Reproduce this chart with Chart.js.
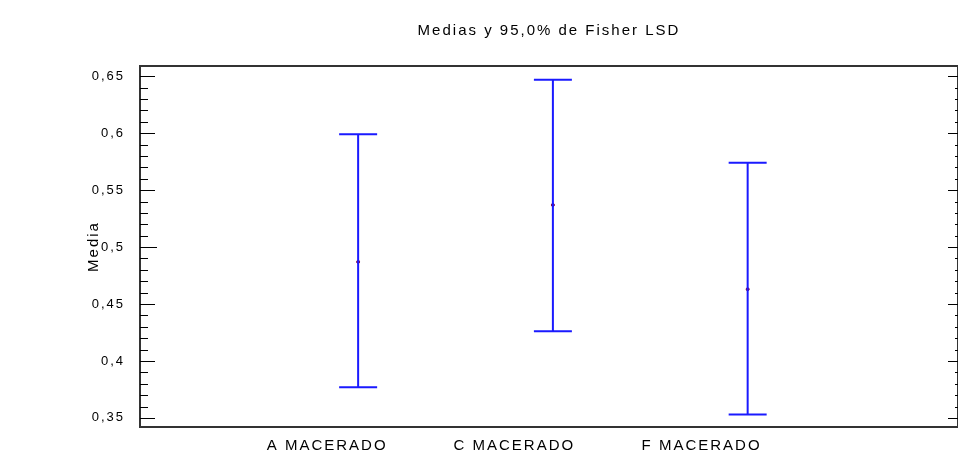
<!DOCTYPE html>
<html>
<head>
<meta charset="utf-8">
<script src="https://cdn.jsdelivr.net/npm/chart.js@4.4.1/dist/chart.umd.min.js"></script>
<style>
  html, body { margin: 0; padding: 0; background: #fff; overflow: hidden; }
  #wrap { width: 958px; height: 459px; }
</style>
</head>
<body>
<div id="wrap"><canvas id="chart"></canvas></div>
<script>
// categorías y valores
const categorias = ["A MACERADO", "C MACERADO", "F MACERADO"];
const medias = [0.487, 0.537, 0.463];
const limiteInferior = [0.377, 0.426, 0.353];
const limiteSuperior = [0.599, 0.647, 0.574];
const ticksY = [0.35, 0.4, 0.45, 0.5, 0.55, 0.6, 0.65];

const fuente = "'Liberation Sans', Arial, sans-serif";
const espaciado = "2px";

// barras de error y marco, dibujados con las escalas del gráfico
const barrasError = {
    id: "barrasError",
    beforeUpdate(chart) {
        chart.ctx.letterSpacing = espaciado;
    },
    beforeDraw(chart) {
        chart.ctx.letterSpacing = espaciado;
    },
    afterDatasetsDraw(chart) {
        const ctx = chart.ctx;
        const xs = chart.scales.x;
        const ys = chart.scales.y;
        ctx.save();
        ctx.strokeStyle = "#1a1aff";
        ctx.lineWidth = 2;
        categorias.forEach((c, i) => {
            const x = xs.getPixelForValue(i + 1);
            const y1 = ys.getPixelForValue(limiteInferior[i]);
            const y2 = ys.getPixelForValue(limiteSuperior[i]);
            ctx.beginPath();
            ctx.moveTo(x, y1);
            ctx.lineTo(x, y2);
            ctx.moveTo(x - 19, y1);
            ctx.lineTo(x + 19, y1);
            ctx.moveTo(x - 19, y2);
            ctx.lineTo(x + 19, y2);
            ctx.stroke();
        });
        ctx.restore();
    },
    afterDraw(chart) {
        const ctx = chart.ctx;
        const a = chart.chartArea;
        const ys = chart.scales.y;
        ctx.save();
        // marco
        ctx.strokeStyle = "#333";
        ctx.lineWidth = 2;
        ctx.strokeRect(a.left, a.top, a.right - a.left, a.bottom - a.top);
        // marcas del eje
        ctx.strokeStyle = "#000";
        ctx.lineWidth = 1;
        ctx.beginPath();
        for (let k = 35; k <= 65; k++) {
            const y = Math.round(ys.getPixelForValue(k / 100)) + 0.5;
            const mayor = k % 5 === 0;
            const largo = mayor ? (k === 50 ? 17 : 15) : 8;
            ctx.moveTo(a.left, y);
            ctx.lineTo(a.left + largo, y);
            ctx.moveTo(a.right, y);
            ctx.lineTo(a.right - (mayor ? 10 : 3), y);
        }
        ctx.stroke();
        ctx.restore();
    }
};

new Chart(document.getElementById("chart"), {
    type: "scatter",
    data: {
        datasets: [{
            label: "Media",
            data: medias.map((m, i) => ({ x: i + 1, y: m })),
            pointRadius: 1.5,
            pointBorderWidth: 1,
            pointBackgroundColor: "#800040",
            pointBorderColor: "#800040"
        }]
    },
    options: {
        responsive: true,
        maintainAspectRatio: false,
        animation: false,
        layout: { autoPadding: false, padding: { left: 0, right: -2, top: 0, bottom: 0 } },
        plugins: {
            legend: { display: false },
            tooltip: { enabled: false },
            title: {
                display: true,
                fullSize: false,
                text: "Medias y 95,0% de Fisher LSD",
                color: "#000",
                font: { family: fuente, size: 15, weight: "normal" },
                padding: { top: 22, bottom: 26 }
            }
        },
        scales: {
            // eje de los datos (oculto)
            x: {
                type: "linear",
                min: -0.12,
                max: 4.08,
                display: false
            },
            // eje de las etiquetas de categoría
            xl: {
                type: "linear",
                position: "bottom",
                min: 0,
                max: 4.37,
                grid: { display: false, drawTicks: false },
                border: { display: false },
                afterBuildTicks: s => { s.ticks = categorias.map((c, i) => ({ value: i + 1 })); },
                ticks: {
                    color: "#000",
                    font: { family: fuente, size: 15 },
                    padding: 10,
                    maxRotation: 0,
                    autoSkip: false,
                    callback: v => categorias[v - 1] || ""
                },
                afterFit: s => { s.height = 32; }
            },
            y: {
                min: 0.342,
                max: 0.659,
                grid: { display: false, drawTicks: false },
                border: { display: false },
                afterBuildTicks: s => { s.ticks = ticksY.map(v => ({ value: v })); },
                ticks: {
                    color: "#000",
                    font: { family: fuente, size: 13 },
                    padding: 15,
                    callback: v => String(Math.round(v * 100) / 100).replace(".", ",")
                },
                title: {
                    display: true,
                    text: "Media",
                    color: "#000",
                    font: { family: fuente, size: 15 },
                    padding: { top: 85, bottom: 0 }
                },
                afterFit: s => { s.width = 140; }
            }
        }
    },
    plugins: [barrasError]
});
</script>
</body>
</html>
